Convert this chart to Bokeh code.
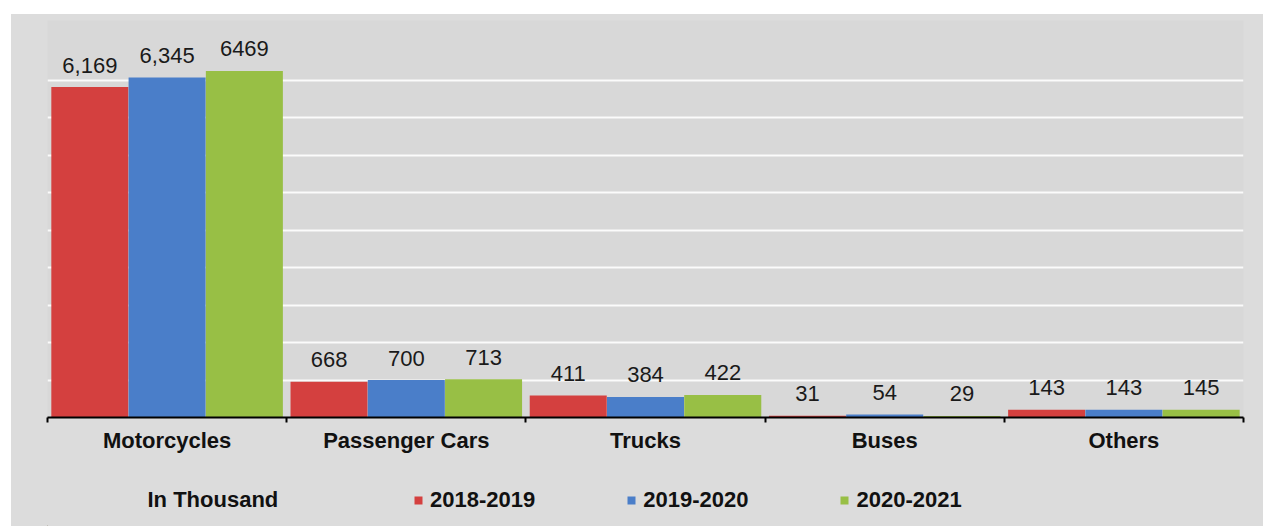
import numpy as np
from bokeh.plotting import figure
from bokeh.models import (ColumnDataSource, FixedTicker, Range1d, Legend, LegendItem,
                          Label, Spacer)
from bokeh.layouts import column, row
from bokeh.core.properties import value
from bokeh.embed import file_html
from bokeh.resources import INLINE

categories = ["Motorcycles", "Passenger Cars", "Trucks", "Buses", "Others"]
years = ["2018-2019", "2019-2020", "2020-2021"]
v2018 = [6169, 668, 411, 31, 143]
v2019 = [6345, 700, 384, 54, 143]
v2020 = [6469, 713, 422, 29, 145]
lab2018 = ["6,169", "668", "411", "31", "143"]
lab2019 = ["6,345", "700", "384", "54", "143"]
lab2020 = ["6469", "713", "422", "29", "145"]
grid_values = [700, 1400, 2100, 2800, 3500, 4200, 4900, 5600, 6300]
unit_note = "In Thousand"

colors = ["#d4403f", "#4a7ec9", "#98bf45"]
FONT = "Liberation Sans"
BORDER = "#dcdcdc"
FS = "22px"

n = len(categories)
centers = np.arange(n) + 0.5
bar_w = 0.322
offsets = [-0.323, 0.0, 0.323]

W = 1252
ML, MR = 36, 20
p = figure(width=W, height=456, output_backend="svg", toolbar_location=None,
           x_range=Range1d(0, n), y_range=Range1d(0, 7411),
           min_border_left=ML, min_border_right=MR, min_border_top=6, min_border_bottom=53)
p.border_fill_color = BORDER
p.background_fill_color = "#d8d8d8"
p.outline_line_color = None

renderers = []
for vals, labs, col, off in zip([v2018, v2019, v2020], [lab2018, lab2019, lab2020], colors, offsets):
    src = ColumnDataSource(dict(x=centers + off, top=vals, lab=labs))
    r = p.vbar(x="x", top="top", width=bar_w, source=src, fill_color=col, line_color=None)
    renderers.append(r)
    p.text(x="x", y="top", text="lab", source=src, text_align="center",
           text_baseline="alphabetic", y_offset=-22, text_font=value(FONT),
           text_font_size=FS, text_color="#1a1a1a")

p.yaxis.visible = False
p.ygrid.ticker = FixedTicker(ticks=grid_values)
p.ygrid.grid_line_color = "white"
p.ygrid.grid_line_width = 2
p.ygrid.grid_line_alpha = 0.9
p.xgrid.visible = False

xa = p.xaxis[0]
xa.ticker = FixedTicker(ticks=list(centers), minor_ticks=list(range(n + 1)))
xa.major_label_overrides = {float(c): name for c, name in zip(centers, categories)}
xa.axis_line_color = "black"
xa.axis_line_width = 2
xa.major_tick_in = 0
xa.major_tick_out = 0
xa.minor_tick_in = 0
xa.minor_tick_out = 5
xa.minor_tick_line_color = "black"
xa.minor_tick_line_width = 2
xa.major_label_text_font = FONT
xa.major_label_text_font_style = "bold"
xa.major_label_text_font_size = FS
xa.major_label_text_color = "#111111"
xa.major_label_standoff = 5

# legend strip below the chart (frame aligned with the chart's frame)
H2 = 56
q = figure(width=W, height=H2, output_backend="svg", toolbar_location=None,
           x_range=Range1d(ML, W - MR), y_range=Range1d(0, H2),
           x_axis_location=None, y_axis_location=None,
           min_border_left=ML, min_border_right=MR,
           min_border_top=0, min_border_bottom=0)
q.border_fill_color = BORDER
q.background_fill_color = BORDER
q.outline_line_color = None
q.grid.visible = False

# legend proxies, placed outside the visible range
leg_renderers = [q.vbar(x=[-1000], top=[1], width=1, fill_color=c, line_color=None) for c in colors]
legend = Legend(items=[LegendItem(label=y, renderers=[r]) for y, r in zip(years, leg_renderers)],
                orientation="horizontal", location=(402 - ML, 13), spacing=91,
                glyph_width=10, glyph_height=10, label_standoff=7, padding=0, margin=0,
                border_line_color=None, background_fill_alpha=0,
                label_text_font=FONT, label_text_font_style="bold",
                label_text_font_size=FS, label_text_color="#111111")
q.add_layout(legend)

note = Label(x=136, y=27, text=unit_note, text_font=FONT, text_font_style="bold",
             text_font_size=FS, text_color="#111111", text_baseline="middle")
q.add_layout(note)

inner = column(p, q, styles={"background-color": BORDER})
layout = column(Spacer(height=14), row(Spacer(width=11), inner))
open("out.html", "w").write(file_html(layout, INLINE))
